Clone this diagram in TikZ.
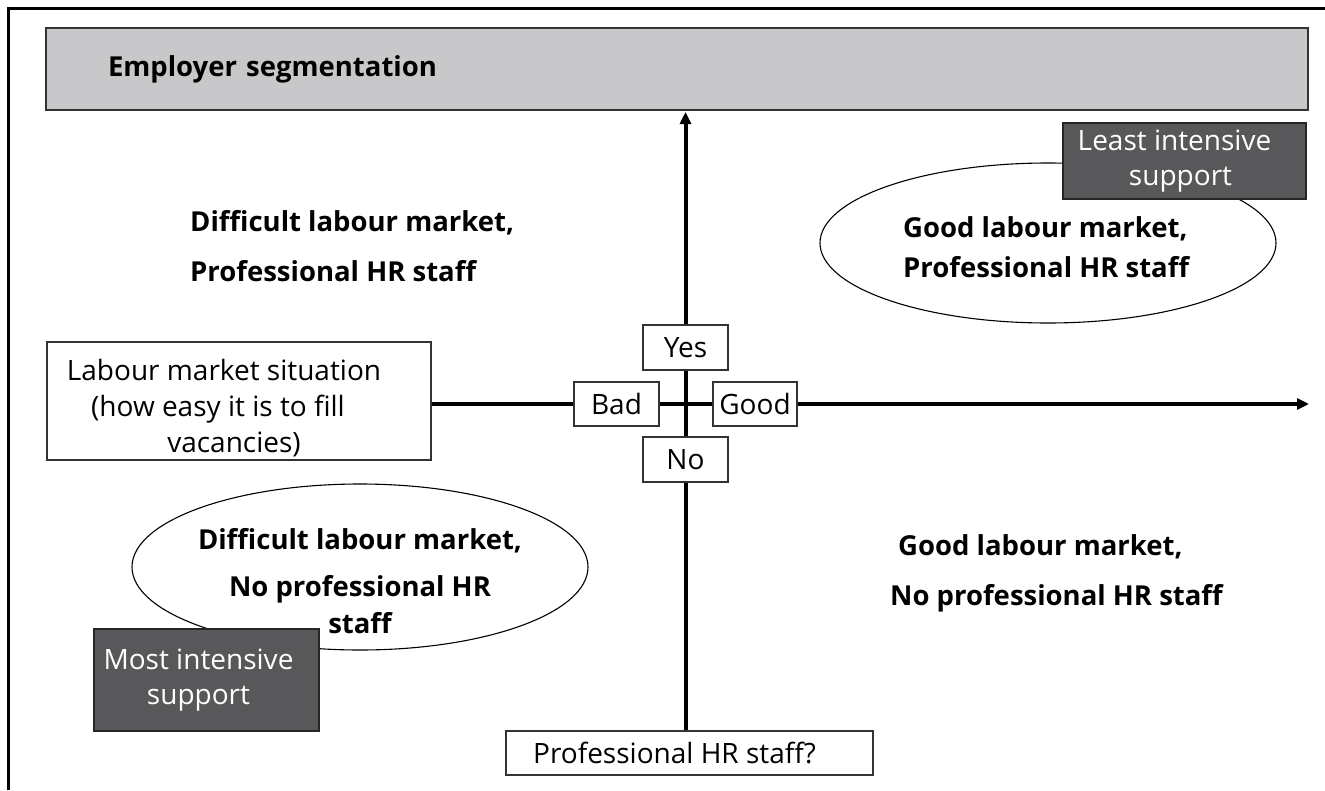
\documentclass[tikz,border=0pt]{standalone}
\usepackage{fontspec}
\setmainfont{Open Sans}
\usetikzlibrary{arrows.meta,shapes.geometric}
\definecolor{headgray}{HTML}{C8C8CA}
\definecolor{darkfill}{HTML}{58585A}
\definecolor{edgegray}{HTML}{333333}
% invisible padding that survives line ends
\newcommand{\padr}[1]{\rule{#1}{0pt}}

\begin{document}
\begin{tikzpicture}[x=1pt,y=-1pt,
  every node/.style={inner sep=0pt, font=\fontsize{28}{35}\selectfont},
  labelbox/.style={draw=edgegray, line width=1.3pt, fill=white, rectangle, align=center},
  supportbox/.style={draw=black!85, line width=1.3pt, fill=darkfill, text=white, rectangle, align=center},
  quadtext/.style={align=left},
  oval/.style={draw=black, line width=1.1pt, ellipse},
  axis/.style={line width=4pt, black},
  tip/.style={-{Triangle[length=12pt,width=11pt]}}
]
\useasboundingbox (0,0) rectangle (1325,790);

% frame edges
\draw[line width=3pt] (8,790) -- (8,8) -- (1325,8);

% title bar
\node[draw=edgegray, fill=headgray, line width=1.3pt, rectangle,
      text width=1138pt, inner xsep=62pt, minimum height=82pt, align=left,
      font=\fontsize{27.5}{33}\bfseries\selectfont] (header) at (677,69) {Employer segmentation};

% quadrant ellipses
\node[oval, minimum width=456pt, minimum height=160pt] (ovalTR) at (1048,243) {};
\node[oval, minimum width=456pt, minimum height=166pt] (ovalBL) at (360,567) {};

% quadrant captions
\node[quadtext, anchor=west, font=\fontsize{27.5}{50}\bfseries\selectfont] (capTL) at (190,246)
  {Difficult labour market,\\Professional HR staff};
\node[quadtext, anchor=west, font=\fontsize{27.5}{40}\bfseries\selectfont] (capTR) at (903,247)
  {Good labour market,\\Professional HR staff};
\node[quadtext, anchor=west, font=\fontsize{27.5}{50}\bfseries\selectfont] (capBR) at (890,573)
  {\hspace*{8pt}Good labour market,\\No professional HR staff};
\node[align=center, font=\fontsize{27.5}{37}\bfseries\selectfont] (capBL) at (360,581)
  {Difficult labour market,\\[10pt]No professional HR\\staff};

% support boxes
\node[supportbox, minimum width=243pt, minimum height=76pt] (least) at (1184.5,161)
  {Least intensive\padr{20pt}\\support\padr{8pt}};
\node[supportbox, minimum width=225pt, minimum height=102pt] (most) at (206.5,680)
  {Most intensive\padr{16pt}\\support\padr{16pt}};

% axis labels
\node[labelbox, minimum width=384pt, minimum height=118pt, font=\fontsize{28}{36}\selectfont] (labour) at (239,401)
  {\rule{0pt}{36pt}Labour market situation\padr{30pt}\\(how easy it is to fill\padr{42pt}\\vacancies)\padr{10pt}};
\node[labelbox, minimum width=367pt, minimum height=44pt] (prof) at (689.5,753) {Professional HR staff?\padr{30pt}};
\node[labelbox, minimum width=85pt, minimum height=45pt] (yes) at (685.5,347.5) {Yes};
\node[labelbox, minimum width=85pt, minimum height=45pt] (no) at (685.5,459.5) {No};
\node[labelbox, minimum width=85pt, minimum height=44pt] (bad) at (616.5,404) {Bad};
\node[labelbox, minimum width=84pt, minimum height=44pt] (good) at (755,404) {Good};

% axis tips
\coordinate (ytip) at (685.5,112);
\coordinate (xtip) at (1309,404);

% vertical axis
\draw[axis] (prof.north -| yes) -- (no.south);
\draw[axis] (no.north) -- (yes.south);
\draw[axis, tip] (yes.north) -- (ytip);
% horizontal axis
\draw[axis] (labour.east |- bad.west) -- (bad.west);
\draw[axis] (bad.east) -- (good.west);
\draw[axis, tip] (good.east) -- (xtip);
\end{tikzpicture}
\end{document}
